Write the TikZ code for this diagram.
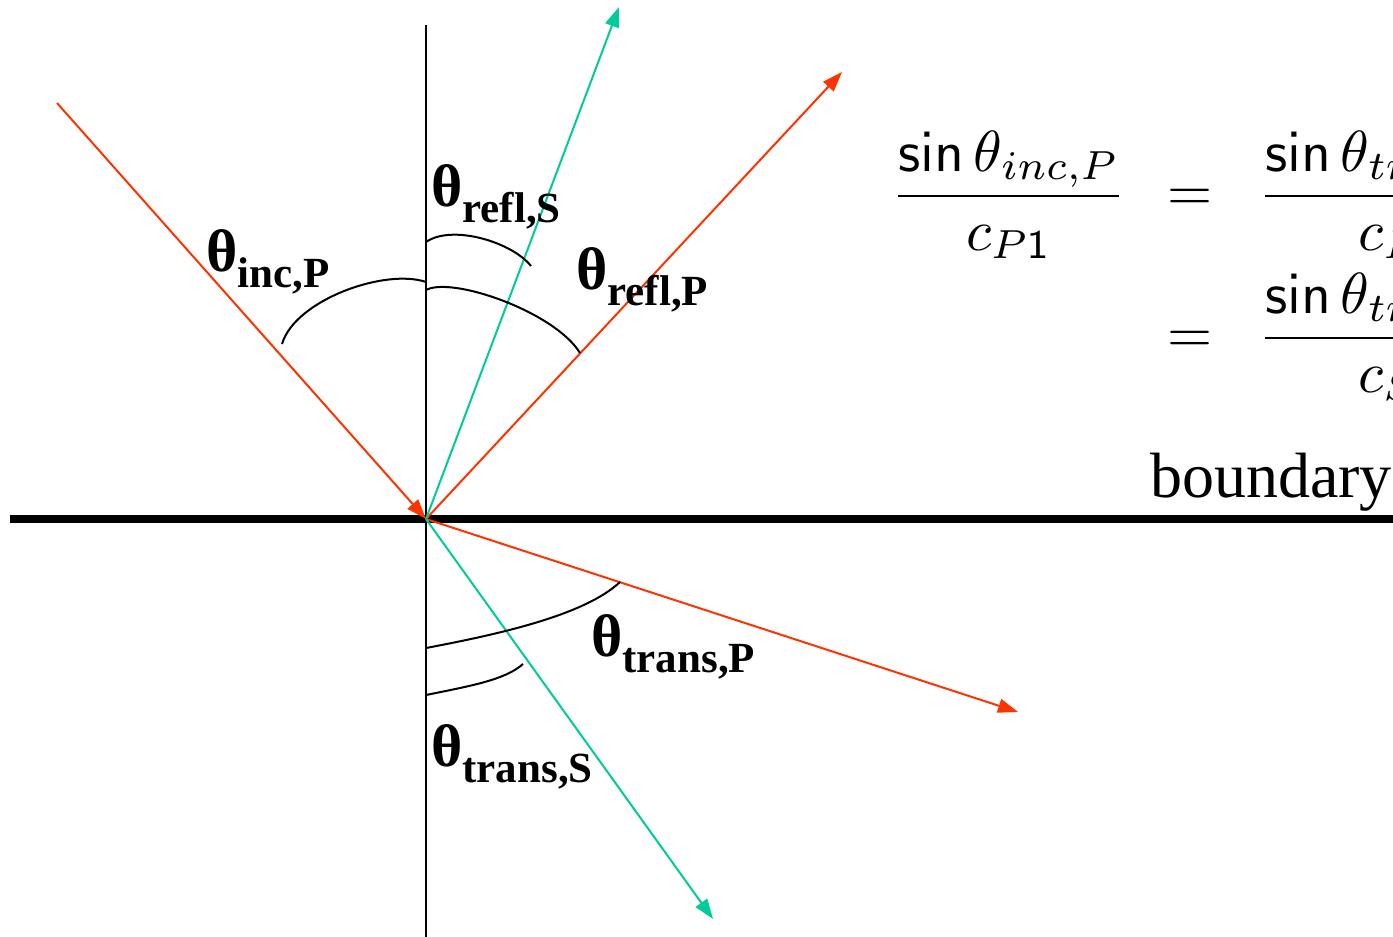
\documentclass[tikz,border=0pt]{standalone}
\usepackage{graphicx}
\usepackage[no-math]{fontspec}
\setmainfont{Liberation Serif}
\usetikzlibrary{arrows.meta}
\definecolor{rayred}{HTML}{FF3300}
\definecolor{rayteal}{HTML}{00CC99}
\newcommand{\anglab}[1]{{\fontsize{60}{60}\selectfont\bfseries θ}{\fontsize{43}{43}\selectfont\bfseries\raisebox{-16pt}{#1}}}
\newcommand{\bigmath}[1]{\scalebox{5.8}{\fontsize{10}{12}\selectfont$\displaystyle #1$}}
\tikzset{
  ray/.style={line width=2pt,-{Triangle[length=20pt,width=14pt]}},
  redray/.style={ray,color=rayred},
  tealray/.style={ray,color=rayteal},
  arcline/.style={line width=2pt,black},
  anglelabel/.style={inner sep=0pt,anchor=base west},
  formula/.style={inner sep=0pt,anchor=base west}
}
\begin{document}
\begin{tikzpicture}[x=1pt,y=-1pt]
\useasboundingbox (0,0) rectangle (1393,937);
\clip (0,0) rectangle (1393,937);
\fill[white] (0,0) rectangle (1393,937);
% coordinates
\coordinate (O) at (426,519);
\coordinate (ntop) at (426,25);
\coordinate (nbot) at (426,937);
\coordinate (bl) at (10,519);
\coordinate (br) at (1393,519);
\coordinate (inc) at (57,103);
\coordinate (rP) at (842,72);
\coordinate (rS) at (619,7);
\coordinate (tP) at (1018,712);
\coordinate (tS) at (713,919);
% normal and boundary
\draw[line width=2pt] (ntop) -- (nbot);
\draw[line width=8pt] (bl) -- (br);
% rays
\draw[redray] (inc) -- (O);
\draw[redray] (O) -- (rP);
\draw[tealray] (O) -- (rS);
\draw[redray] (O) -- (tP);
\draw[tealray] (O) -- (tS);
% arcs
\draw[arcline] (282,344) .. controls (295,300) and (385,268) .. (426,282);
\draw[arcline] (426,242) .. controls (452,224) and (512,242) .. (531,266);
\draw[arcline] (426,290) .. controls (452,276) and (555,312) .. (580,353);
\draw[arcline] (426,648) .. controls (500,634) and (585,615) .. (620,582);
\draw[arcline] (426,695) .. controls (470,686) and (505,680) .. (523,664);
% labels
\node[anglelabel] (linc) at (206,271) {\anglab{inc,P}};
\node[anglelabel] (lrS) at (431,206) {\anglab{refl,S}};
\node[anglelabel] (lrP) at (576,289) {\anglab{refl,P}};
\node[anglelabel] (ltP) at (591,656) {\anglab{trans,P}};
\node[anglelabel] (ltS) at (431,766) {\anglab{trans,S}};
% formula
\node[formula] (f1) at (891,210.5) {\bigmath{\frac{\mathsf{sin}\,\theta_{inc,P}}{c_{P\mathsf{1}}}}};
\node[formula] (eq1) at (1167,210.5) {\bigmath{=}};
\node[formula] (f2) at (1258,210.5) {\bigmath{\frac{\mathsf{sin}\,\theta_{trans,P}}{c_{P\mathsf{2}}}}};
\node[formula] (eq2) at (1167,352.5) {\bigmath{=}};
\node[formula] (f3) at (1258,352.5) {\bigmath{\frac{\mathsf{sin}\,\theta_{trans,S}}{c_{S\mathsf{2}}}}};
\node[inner sep=0pt,anchor=base west,font=\fontsize{64}{64}\selectfont] (bd) at (1150,497) {boundary};
\end{tikzpicture}
\end{document}
